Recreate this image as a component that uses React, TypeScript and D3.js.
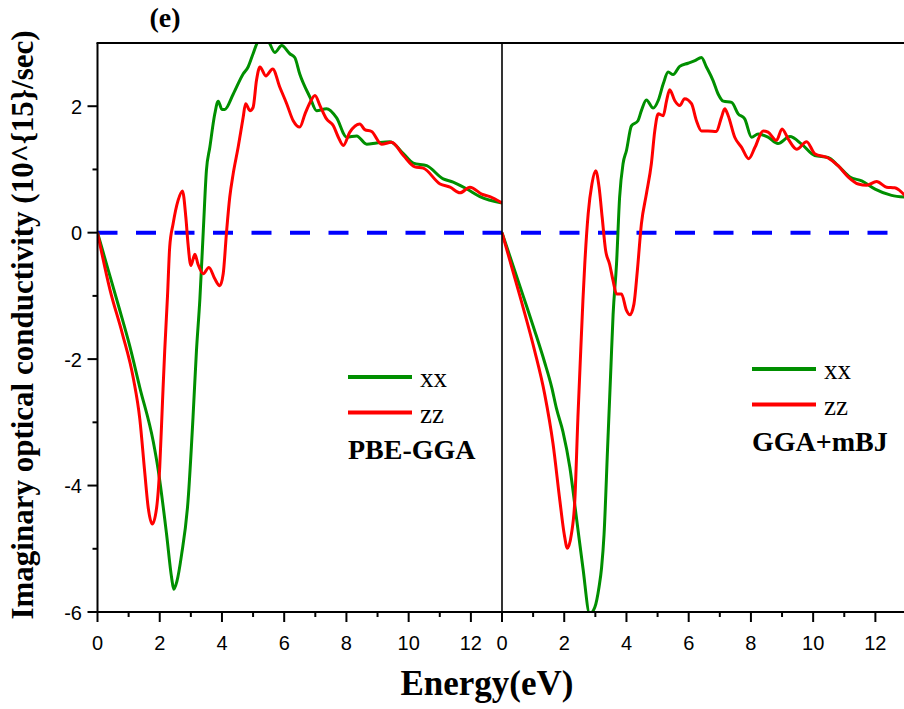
import React from "react";
import * as d3 from "d3";

// ---------- data ----------
const pbeXX: [number, number][] = [
  [0, 0], [0.35, -0.6], [0.7, -1.2], [1.04, -1.8], [1.36, -2.45], [1.79, -3.3], [1.95, -3.75],
  [2.22, -4.77], [2.38, -5.45], [2.45, -5.64], [2.55, -5.52], [2.7, -5.1], [2.91, -4.24],
  [3.07, -2.92], [3.18, -1.87], [3.29, -1.05], [3.4, 0.03], [3.5, 0.98], [3.61, 1.35],
  [3.77, 1.88], [3.88, 2.08], [4.0, 1.95], [4.09, 1.95], [4.36, 2.19], [4.68, 2.51], [4.84, 2.62],
  [5.0, 2.83], [5.16, 3.02], [5.3, 3.05], [5.49, 3.02], [5.7, 2.85], [5.92, 2.96], [6.18, 2.83],
  [6.34, 2.77], [6.5, 2.51], [6.83, 2.14], [7.04, 1.93], [7.36, 1.96], [7.68, 1.82], [8.01, 1.51],
  [8.33, 1.53], [8.65, 1.4], [8.97, 1.42], [9.4, 1.44], [9.83, 1.25], [10.15, 1.1], [10.58, 1.06],
  [11.11, 0.85], [11.43, 0.8], [11.87, 0.69], [12.29, 0.57], [13.0, 0.47],
];
const pbeZZ: [number, number][] = [
  [0, 0], [0.4, -0.9], [0.8, -1.6], [1.15, -2.3], [1.36, -2.95], [1.52, -3.8], [1.63, -4.35],
  [1.76, -4.61], [1.9, -4.35], [2.0, -3.71], [2.09, -2.66], [2.16, -1.87], [2.25, -1.0],
  [2.32, -0.23], [2.43, 0.14], [2.59, 0.51], [2.73, 0.66], [2.84, 0.24], [2.91, -0.18],
  [3.0, -0.52], [3.13, -0.34], [3.23, -0.5], [3.4, -0.65], [3.58, -0.55], [3.77, -0.73],
  [3.93, -0.84], [4.04, -0.65], [4.15, 0.03], [4.25, 0.56], [4.36, 0.93], [4.52, 1.35],
  [4.68, 1.82], [4.76, 2.04], [4.9, 1.93], [5.0, 1.98], [5.11, 2.41], [5.22, 2.62], [5.41, 2.48],
  [5.63, 2.59], [5.86, 2.3], [6.08, 2.04], [6.29, 1.77], [6.5, 1.67], [6.67, 1.88], [6.83, 2.06],
  [6.99, 2.17], [7.15, 2.01], [7.36, 1.8], [7.58, 1.69], [7.74, 1.51], [7.9, 1.38], [8.11, 1.59],
  [8.43, 1.72], [8.59, 1.63], [8.81, 1.6], [9.13, 1.4], [9.45, 1.43], [9.83, 1.22], [10.2, 1.04],
  [10.47, 1.02], [11.01, 0.77], [11.33, 0.72], [11.65, 0.63], [11.97, 0.72], [12.35, 0.61],
  [12.61, 0.57], [13.0, 0.47],
];
const mbjXX: [number, number][] = [
  [0, 0], [0.68, -1.0], [1.05, -1.55], [1.37, -2.05], [1.6, -2.45], [1.75, -2.78], [1.96, -3.15],
  [2.18, -3.71], [2.39, -4.5], [2.6, -5.3], [2.82, -6.03], [2.98, -5.93], [3.12, -5.6],
  [3.2, -5.3], [3.28, -4.77], [3.39, -3.45], [3.5, -2.13], [3.57, -1.3], [3.68, -0.5],
  [3.78, 0.56], [3.89, 1.09], [4.0, 1.3], [4.16, 1.69], [4.37, 1.77], [4.48, 1.93], [4.64, 2.1],
  [4.86, 1.97], [5.02, 2.09], [5.18, 2.35], [5.34, 2.54], [5.5, 2.5], [5.71, 2.63], [5.98, 2.68],
  [6.2, 2.72], [6.41, 2.77], [6.57, 2.62], [6.78, 2.41], [6.95, 2.19], [7.11, 2.08], [7.38, 2.06],
  [7.59, 1.88], [7.8, 1.8], [8.02, 1.51], [8.23, 1.56], [8.55, 1.51], [8.87, 1.41], [9.25, 1.52],
  [9.63, 1.4], [10.05, 1.22], [10.48, 1.19], [10.8, 1.06], [11.18, 0.88], [11.56, 0.82],
  [11.99, 0.69], [12.52, 0.59], [13.0, 0.56],
];
const mbjZZ: [number, number][] = [
  [0, 0], [0.62, -1.08], [1.05, -1.87], [1.37, -2.55], [1.64, -3.34], [1.86, -4.24], [2.0, -4.77],
  [2.1, -4.99], [2.23, -4.77], [2.34, -4.24], [2.44, -2.92], [2.53, -1.87], [2.6, -1.08],
  [2.66, -0.5], [2.77, 0.3], [2.89, 0.77], [3.01, 0.98], [3.12, 0.72], [3.22, 0.24], [3.33, -0.28],
  [3.46, -0.5], [3.57, -0.76], [3.68, -0.97], [3.84, -0.97], [4.0, -1.23], [4.11, -1.3],
  [4.24, -1.13], [4.35, -0.6], [4.48, 0.14], [4.64, 0.61], [4.8, 1.09], [4.91, 1.61], [5.02, 1.88],
  [5.18, 1.85], [5.29, 2.09], [5.39, 2.26], [5.55, 2.09], [5.71, 2.01], [5.87, 2.12], [6.09, 2.04],
  [6.25, 1.77], [6.41, 1.61], [6.62, 1.61], [6.89, 1.6], [7.05, 1.82], [7.16, 1.96], [7.27, 1.85],
  [7.48, 1.51], [7.7, 1.35], [7.93, 1.17], [8.13, 1.35], [8.39, 1.61], [8.55, 1.59], [8.82, 1.46],
  [9.0, 1.64], [9.2, 1.48], [9.47, 1.32], [9.79, 1.44], [10.05, 1.25], [10.48, 1.18], [10.8, 1.06],
  [11.13, 0.88], [11.45, 0.77], [11.72, 0.75], [12.04, 0.81], [12.36, 0.72], [12.62, 0.71],
  [13.0, 0.56],
];

const xMajorTicks = [0, 2, 4, 6, 8, 10, 12];
const xMinorTicks = [1, 3, 5, 7, 9, 11];
const yMajorTicks = [-6, -4, -2, 0, 2];
const yMinorTicks = [-5, -3, -1, 1];
const seriesNames = ["xx", "zz"];
const panelNames = ["PBE-GGA", "GGA+mBJ"];
const panelLabel = "(e)";
const xTitle = "Energy(eV)";
const yTitle = "Imaginary optical conductivity (10^{15}/sec)";

const GREEN = "#008f00";
const RED = "#ff0000";
const BLUE = "#0000ff";

export default function App() {
  const W = 904, H = 709;
  const top = 43, bottom = 612;
  const xL = d3.scaleLinear().domain([0, 13]).range([97.5, 502]);
  const xR = d3.scaleLinear().domain([0, 13]).range([502, 906.5]);
  const y = d3.scaleLinear().domain([-6, 3]).range([bottom, top]);

  const mkLine = (xs: d3.ScaleLinear<number, number>) =>
    d3.line<[number, number]>().x((d) => xs(d[0])).y((d) => y(d[1])).curve(d3.curveMonotoneX);
  const lineL = mkLine(xL);
  const lineR = mkLine(xR);

  const sans = "'Liberation Sans', Arial, sans-serif";
  const serif = "'Liberation Serif', 'Times New Roman', serif";

  const xTicks = (xs: d3.ScaleLinear<number, number>, key: string) => (
    <g key={key}>
      {xMajorTicks.map((t) => (
        <g key={"M" + t}>
          <line x1={xs(t)} x2={xs(t)} y1={bottom} y2={bottom + 10} stroke="#000" strokeWidth={2} />
          <text x={xs(t)} y={649.5} textAnchor="middle" fontFamily={sans} fontSize={20}>{t}</text>
        </g>
      ))}
      {xMinorTicks.map((t) => (
        <line key={"m" + t} x1={xs(t)} x2={xs(t)} y1={bottom} y2={bottom + 5} stroke="#000" strokeWidth={2} />
      ))}
    </g>
  );

  const legend = (x0: number, y0: number, name: string) => (
    <g>
      <line x1={x0} x2={x0 + 64} y1={y0} y2={y0} stroke={GREEN} strokeWidth={4} />
      <text x={x0 + 72} y={y0 + 10} fontFamily={serif} fontSize={27}>{seriesNames[0]}</text>
      <line x1={x0} x2={x0 + 64} y1={y0 + 35.5} y2={y0 + 35.5} stroke={RED} strokeWidth={4} />
      <text x={x0 + 72} y={y0 + 45.5} fontFamily={serif} fontSize={27}>{seriesNames[1]}</text>
      <text x={x0} y={y0 + 82} fontFamily={serif} fontSize={28} fontWeight="bold">{name}</text>
    </g>
  );

  return (
    <svg width={W} height={H} style={{ position: "absolute", left: 0, top: 0, background: "#fff" }}>
      <defs>
        <clipPath id="clipL"><rect x={97.5} y={top} width={502 - 97.5} height={bottom - top} /></clipPath>
        <clipPath id="clipR"><rect x={502} y={top} width={906.5 - 502} height={bottom - top} /></clipPath>
      </defs>
      <rect x={0} y={0} width={W} height={H} fill="#fff" />

      {/* zero reference line */}
      <line x1={97.5} x2={W} y1={y(0)} y2={y(0)} stroke={BLUE} strokeWidth={4} strokeDasharray="20 18.5" />

      {/* data */}
      <g clipPath="url(#clipL)" fill="none" strokeWidth={3} strokeLinejoin="round">
        <path d={lineL(pbeXX) || ""} stroke={GREEN} />
        <path d={lineL(pbeZZ) || ""} stroke={RED} />
      </g>
      <g clipPath="url(#clipR)" fill="none" strokeWidth={3} strokeLinejoin="round">
        <path d={lineR(mbjXX) || ""} stroke={GREEN} />
        <path d={lineR(mbjZZ) || ""} stroke={RED} />
      </g>

      {/* frame */}
      <line x1={96.5} x2={W} y1={top} y2={top} stroke="#000" strokeWidth={2} />
      <line x1={96.5} x2={W} y1={bottom} y2={bottom} stroke="#000" strokeWidth={2} />
      <line x1={97.5} x2={97.5} y1={top} y2={bottom + 1} stroke="#000" strokeWidth={2} />
      <line x1={502} x2={502} y1={top} y2={bottom} stroke="#000" strokeWidth={1.6} />

      {/* y ticks */}
      {yMajorTicks.map((t) => (
        <g key={"y" + t}>
          <line x1={87.5} x2={97.5} y1={y(t)} y2={y(t)} stroke="#000" strokeWidth={2} />
          <text x={82} y={y(t) + 7.5} textAnchor="end" fontFamily={sans} fontSize={20}>{t}</text>
        </g>
      ))}
      {yMinorTicks.map((t) => (
        <line key={"ym" + t} x1={92.5} x2={97.5} y1={y(t)} y2={y(t)} stroke="#000" strokeWidth={2} />
      ))}

      {xTicks(xL, "L")}
      {xTicks(xR, "R")}

      {legend(348, 377, panelNames[0])}
      {legend(752, 369, panelNames[1])}

      <text x={165} y={27} textAnchor="middle" fontFamily={serif} fontSize={28} fontWeight="bold">{panelLabel}</text>
      <text x={487} y={695} textAnchor="middle" fontFamily={serif} fontSize={35} fontWeight="bold">{xTitle}</text>
      <text transform="translate(33,325) rotate(-90)" textAnchor="middle" fontFamily={serif} fontSize={31} fontWeight="bold">{yTitle}</text>
    </svg>
  );
}
